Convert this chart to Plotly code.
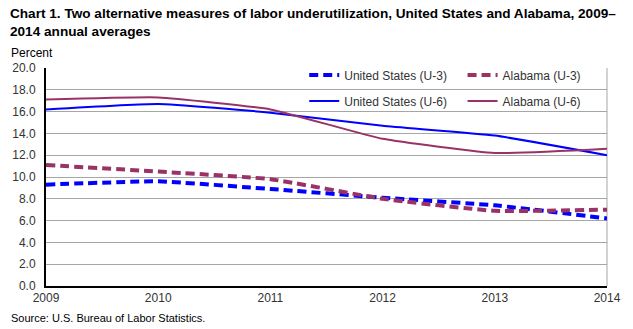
import plotly.graph_objects as go

years = [2009, 2010, 2011, 2012, 2013, 2014]
us_u3 = [9.3, 9.6, 8.9, 8.1, 7.4, 6.2]
al_u3 = [11.1, 10.5, 9.8, 8.0, 6.9, 7.0]
us_u6 = [16.2, 16.7, 15.9, 14.7, 13.8, 12.0]
al_u6 = [17.1, 17.3, 16.2, 13.5, 12.2, 12.6]

y_ticks = [0, 2, 4, 6, 8, 10, 12, 14, 16, 18, 20]

BLUE = "#0000FF"
MAROON = "#993366"
FONT = "Liberation Sans, Arial, sans-serif"

# plot area in pixels
L, R, T, B = 43, 23, 68, 43
PW, PH = 633 - L - R, 329 - T - B


def px_x(px):
    return (px - L) / PW


def px_y(py):
    return (329 - B - py) / PH


fig = go.Figure()

series = [
    ("United States (U-3)", us_u3, BLUE, 4, "9px,5px", "legend", 304, 75),
    ("Alabama (U-3)", al_u3, MAROON, 4, "9px,5px", "legend2", 464, 75),
    ("United States (U-6)", us_u6, BLUE, 2, "solid", "legend3", 304, 101),
    ("Alabama (U-6)", al_u6, MAROON, 2, "solid", "legend4", 464, 101),
]
legends = {}
for name, vals, color, width, dash, leg, lx, ly in series:
    fig.add_trace(go.Scatter(
        x=years, y=vals, name=name, mode="lines",
        line=dict(color=color, width=width, dash=dash, shape="spline", smoothing=0.4),
        legend=leg,
        hoverinfo="skip",
    ))
    legends[leg] = dict(
        x=px_x(lx), y=px_y(ly), xanchor="left", yanchor="middle",
        orientation="h", bgcolor="rgba(0,0,0,0)",
        font=dict(family=FONT, size=12, color="#333333"),
        itemwidth=30,
    )

fig.update_layout(
    width=633, height=329,
    margin=dict(l=L, r=R, t=T, b=B),
    paper_bgcolor="white", plot_bgcolor="white",
    font=dict(family=FONT, size=12, color="#333333"),
    showlegend=True,
    **legends,
    xaxis=dict(
        range=[2009, 2014], tickvals=years, ticktext=[str(y) for y in years],
        showgrid=False, zeroline=False,
        showline=True, linecolor="black", linewidth=2,
        ticks="", tickfont=dict(family=FONT, size=12, color="#333333"),
        fixedrange=True,
    ),
    yaxis=dict(
        range=[0, 20], tickvals=y_ticks, tickformat=".1f",
        showgrid=True, gridcolor="#A6A6A6", gridwidth=1,
        zeroline=False, showline=True, linecolor="black", linewidth=2,
        ticks="", ticklabelstandoff=6,
        tickfont=dict(family=FONT, size=12, color="#333333"),
        fixedrange=True,
    ),
    shapes=[dict(type="line", xref="paper", yref="paper", x0=1, x1=1, y0=0, y1=1,
                 line=dict(color="#A6A6A6", width=1), layer="below")],
    annotations=[
        dict(text="<b>Chart 1. Two alternative measures of labor underutilization, United States and Alabama, 2009–<br>2014 annual averages</b>",
             xref="paper", yref="paper", x=px_x(5), y=px_y(4), xanchor="left", yanchor="top",
             align="left", showarrow=False, font=dict(family=FONT, size=13.6, color="black")),
        dict(text="Percent", xref="paper", yref="paper", x=px_x(6), y=px_y(53),
             xanchor="left", yanchor="middle", showarrow=False,
             font=dict(family=FONT, size=12, color="black")),
        dict(text="Source: U.S. Bureau of Labor Statistics.", xref="paper", yref="paper",
             x=px_x(6), y=px_y(318), xanchor="left", yanchor="middle", showarrow=False,
             font=dict(family=FONT, size=11, color="black")),
    ],
)

fig.write_html("out.html", config={"displayModeBar": False})
